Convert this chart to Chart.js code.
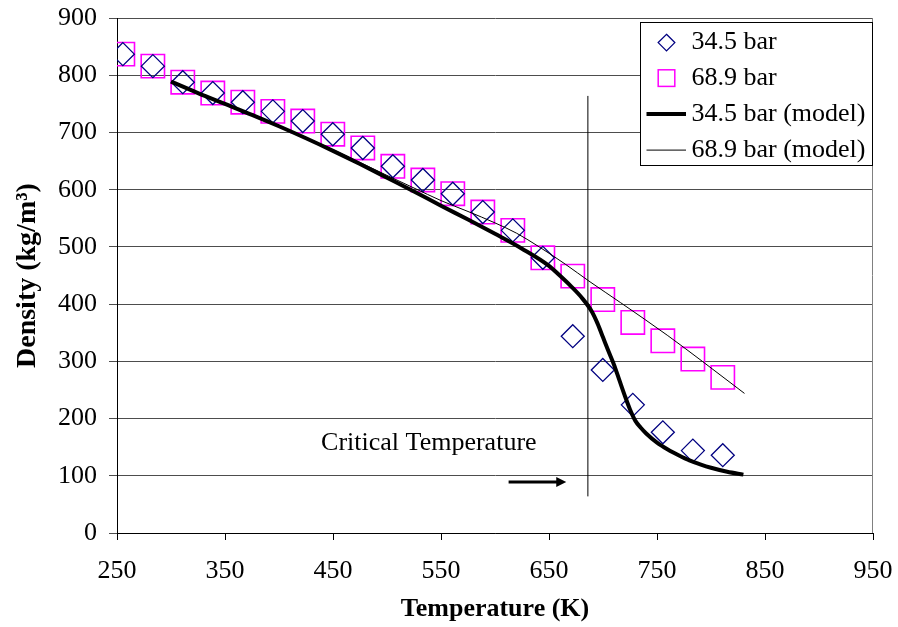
<!DOCTYPE html>
<html><head><meta charset="utf-8">
<script src="https://cdn.jsdelivr.net/npm/chart.js@4.4.0/dist/chart.umd.min.js"></script>
<style>html,body{margin:0;padding:0;background:#fff}</style>
</head><body>
<canvas id="c" width="898" height="627"></canvas>
<script>
// ---- data ----
const temps = [255.4, 283.2, 310.9, 338.7, 366.5, 394.3, 422.0, 449.8, 477.6, 505.4, 533.2, 560.9, 588.7, 616.5, 644.3, 672.0, 699.8, 727.6, 755.4, 783.2, 810.9];
const density345 = [837, 816, 788, 769, 753, 737, 720, 697, 673, 641, 617, 593, 561, 529, 481, 344, 285, 224, 176, 144, 136];
const density689 = [837, 816, 788, 769, 753, 737, 720, 697, 673, 641, 617, 593, 561, 529, 481, 449, 408, 368, 336, 304, 272];

const modelT345 = [300, 325, 350, 375, 400, 425, 450, 475, 500, 525, 550, 575, 600, 625, 650, 660, 670, 680, 690, 695, 700, 705, 710, 715, 720, 725, 730, 735, 740, 750, 760, 770, 780, 790, 800, 815, 830];
const model345  = [789, 769, 750, 731, 711, 690, 668, 645, 621, 597, 572, 548, 523, 497, 467, 450, 432, 412, 386, 366, 342, 318, 295, 268, 241, 216, 196, 184, 174, 158, 146, 136, 127, 120, 114, 107, 102];

const modelT689 = [300, 350, 400, 450, 500, 525, 550, 575, 600, 620, 641, 665, 688, 716, 760, 792, 831];
const model689  = [789, 751, 712, 670, 625, 603, 581, 562, 542, 524, 500, 470, 439, 403, 345, 300, 244];

const critT = [686, 686];
const critRho = [64, 764];
const arrowT = [612.6, 662];
const arrowRho = [89, 89];
const arrowTipT = 666;
const annotation = {text: 'Critical Temperature', t: 439, rho: 157};

const xTicks = [250, 350, 450, 550, 650, 750, 850, 950];
const yTicks = [0, 100, 200, 300, 400, 500, 600, 700, 800, 900];
const labels = ['34.5 bar', '68.9 bar', '34.5 bar (model)', '68.9 bar (model)'];

const pts = (xs, ys) => xs.map((x, i) => ({x: x, y: ys[i]}));
const FONT = "'Liberation Serif', 'Times New Roman', serif";

const extras = {
  id: 'extras',
  beforeDatasetsDraw(chart) {
    const {ctx, chartArea: a} = chart;
    ctx.save();
    ctx.strokeStyle = '#808080';
    ctx.lineWidth = 1;
    ctx.beginPath();
    ctx.moveTo(Math.round(a.right) - 0.5, a.top);
    ctx.lineTo(Math.round(a.right) - 0.5, a.bottom);
    ctx.stroke();
    ctx.restore();
  },
  afterDatasetsDraw(chart) {
    const {ctx, chartArea: a, scales} = chart;
    const xs = scales.x, ys = scales.y;
    ctx.save();
    // arrow head
    const tx = xs.getPixelForValue(arrowTipT), ty = ys.getPixelForValue(arrowRho[1]);
    ctx.fillStyle = '#000';
    ctx.beginPath();
    ctx.moveTo(tx, ty);
    ctx.lineTo(tx - 10, ty - 5);
    ctx.lineTo(tx - 10, ty + 5);
    ctx.closePath();
    ctx.fill();
    // annotation text
    ctx.font = '26px ' + FONT;
    ctx.textAlign = 'left';
    ctx.textBaseline = 'middle';
    ctx.fillText(annotation.text, xs.getPixelForValue(annotation.t), ys.getPixelForValue(annotation.rho));

    // legend box
    const x1 = a.right, x0 = x1 - 233, y0 = a.top + 4, y1 = y0 + 143;
    ctx.fillStyle = '#fff';
    ctx.fillRect(x0, y0, x1 - x0, y1 - y0);
    ctx.strokeStyle = '#000';
    ctx.lineWidth = 1;
    ctx.strokeRect(Math.round(x0) + 0.5, Math.round(y0) + 0.5, Math.round(x1 - x0) - 1, Math.round(y1 - y0));
    const rows = [y0 + 20.5, y0 + 56, y0 + 92, y0 + 128];
    const cx = x0 + 26.5;
    // diamond
    ctx.strokeStyle = '#000080';
    ctx.lineWidth = 1.3;
    ctx.beginPath();
    ctx.moveTo(cx, rows[0] - 8.3); ctx.lineTo(cx + 8.3, rows[0]); ctx.lineTo(cx, rows[0] + 8.3); ctx.lineTo(cx - 8.3, rows[0]); ctx.closePath();
    ctx.stroke();
    // square
    ctx.strokeStyle = '#ff00ff';
    ctx.lineWidth = 1.5;
    ctx.strokeRect(cx - 8.3, rows[1] - 8.3, 16.6, 16.6);
    // lines
    ctx.strokeStyle = '#000';
    ctx.lineWidth = 4;
    ctx.beginPath(); ctx.moveTo(x0 + 6.5, rows[2]); ctx.lineTo(x0 + 46, rows[2]); ctx.stroke();
    ctx.lineWidth = 1;
    ctx.beginPath(); ctx.moveTo(x0 + 6.5, rows[3]); ctx.lineTo(x0 + 46, rows[3]); ctx.stroke();
    ctx.fillStyle = '#000';
    ctx.font = '26px ' + FONT;
    ctx.textAlign = 'left';
    ctx.textBaseline = 'middle';
    labels.forEach((t, i) => ctx.fillText(t, x0 + 51.5, rows[i]));
    ctx.restore();
  }
};

new Chart(document.getElementById('c'), {
  type: 'scatter',
  data: {
    datasets: [
      {label: labels[2], data: pts(modelT345, model345), showLine: true, borderColor: '#000', borderWidth: 4, pointRadius: 0, cubicInterpolationMode: 'monotone', order: 1},
      {label: labels[3], data: pts(modelT689, model689), showLine: true, borderColor: '#000', borderWidth: 1, pointRadius: 0, cubicInterpolationMode: 'monotone', order: 2},
      {label: 'critical', data: pts(critT, critRho), showLine: true, borderColor: '#000', borderWidth: 1, pointRadius: 0, order: 3},
      {label: 'arrow', data: pts(arrowT, arrowRho), showLine: true, borderColor: '#000', borderWidth: 3, pointRadius: 0, order: 4},
      {label: labels[0], data: pts(temps, density345), showLine: false, pointStyle: 'rectRot', pointRadius: 11.5, borderColor: '#000080', backgroundColor: 'rgba(0,0,0,0)', pointBorderWidth: 1.3, order: 5},
      {label: labels[1], data: pts(temps, density689), showLine: false, pointStyle: 'rect', pointRadius: 16.5, borderColor: '#ff00ff', backgroundColor: 'rgba(0,0,0,0)', pointBorderWidth: 1.6, order: 6}
    ]
  },
  options: {
    responsive: false,
    animation: false,
    events: [],
    layout: {padding: {left: 0, top: 17, right: 25, bottom: 0}},
    plugins: {legend: {display: false}, tooltip: {enabled: false}},
    scales: {
      x: {
        type: 'linear', min: 250, max: 950,
        afterBuildTicks: s => { s.ticks = xTicks.map(v => ({value: v})); },
        afterFit: s => { s.height = 94; s.paddingLeft = 0; s.paddingRight = 0; },
        ticks: {color: '#000', font: {family: FONT, size: 26}, padding: 16},
        grid: {drawOnChartArea: false, drawTicks: true, tickLength: 7, color: '#000'},
        border: {color: '#000', width: 1},
        title: {display: true, text: 'Temperature (K)', color: '#000', font: {family: FONT, size: 26, weight: 'bold'}, padding: {top: 0, bottom: 2}}
      },
      y: {
        min: 0, max: 900,
        afterBuildTicks: s => { s.ticks = yTicks.map(v => ({value: v})); },
        afterFit: s => { s.width = 117; s.paddingTop = 0; s.paddingBottom = 0; },
        ticks: {color: '#000', font: {family: FONT, size: 26}, padding: 12},
        grid: {color: '#4d4d4d', tickLength: 8, drawTicks: true},
        border: {color: '#000', width: 1},
        title: {display: true, text: 'Density (kg/m³)', color: '#000', font: {family: FONT, size: 28, weight: 'bold'}, padding: {top: 11, bottom: 0}}
      }
    }
  },
  plugins: [extras]
});
</script>
</body></html>
